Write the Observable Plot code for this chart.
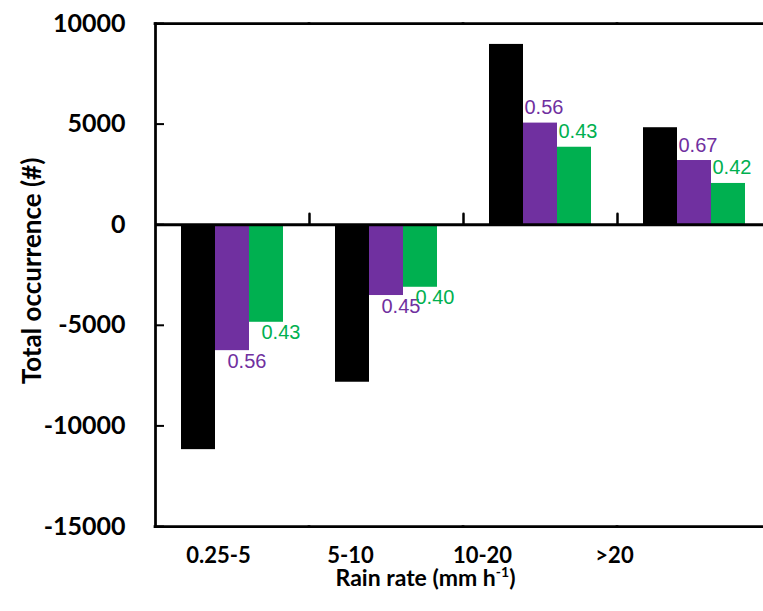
<!DOCTYPE html>
<html>
<head>
<meta charset="utf-8">
<script src="https://cdn.jsdelivr.net/npm/d3@7"></script>
<script src="https://cdn.jsdelivr.net/npm/@observablehq/plot@0.6"></script>
<style>
  html, body { margin: 0; padding: 0; background: #fff; overflow: hidden; }
  #chart svg { display: block; }
</style>
</head>
<body>
<div id="chart"></div>
<script>
// Rain-rate classes on the horizontal axis
const categories = ["0.25-5", "5-10", "10-20", ">20"];

// Three bar series per class: total (black) and two subsets (purple, green)
const seriesKeys = ["all", "subsetA", "subsetB"];
const seriesColors = ["#000000", "#7030A0", "#00B050"];

const totalValues   = [-11180, -7830, 8960, 4820];
const subsetAValues = [-6260, -3520, 5050, 3190];
const subsetBValues = [-4850, -3110, 3850, 2050];

// Ratios printed next to the coloured bars
const subsetARatios = [0.56, 0.45, 0.56, 0.67];
const subsetBRatios = [0.43, 0.40, 0.43, 0.42];

const yTicks = [-15000, -10000, -5000, 0, 5000, 10000];
const yTitle = "Total occurrence (#)";
const xTitle = "Rain rate (mm h-1)";

const rows = categories.flatMap((cat, i) => [
  {cat, s: "all",     v: totalValues[i],   r: null},
  {cat, s: "subsetA", v: subsetAValues[i], r: subsetARatios[i]},
  {cat, s: "subsetB", v: subsetBValues[i], r: subsetBRatios[i]}
]);
const labelled = rows.filter(d => d.r != null);

const boldFont = "Lato, 'Open Sans', sans-serif";
const valueFont = "'Liberation Sans', Arial, sans-serif";

// short upward tick drawn on the zero line at each class boundary
const tickUp = {draw(context, l) { context.moveTo(0, 0); context.lineTo(0, -l); }};

const main = Plot.plot({
  width: 763,
  height: 541,
  marginLeft: 154,
  marginRight: -8,
  marginTop: 23,
  marginBottom: 15,
  style: {fontFamily: boldFont, background: "#fff", color: "#000"},
  fx: {domain: categories, padding: 0, axis: null},
  x: {domain: seriesKeys, paddingInner: 0, paddingOuter: 0.75, axis: null},
  y: {domain: [-15000, 10000]},
  color: {domain: seriesKeys, range: seriesColors},
  marks: [
    Plot.barY(rows, {fx: "cat", x: "s", y: "v", fill: "s"}),
    Plot.ruleY([10000, -15000], {stroke: "#000", strokeWidth: 2.75, strokeLinecap: "square"}),
    Plot.ruleY([0], {stroke: "#000", strokeWidth: 3}),
    Plot.frame({anchor: "left", facetAnchor: "left", stroke: "#000", strokeWidth: 2.75}),
    Plot.vector([0], {y: d => d, frameAnchor: "right", rotate: 0, length: 11, anchor: "start",
      shape: tickUp, stroke: "#000", strokeWidth: 2.5}),
    Plot.axisY({ticks: yTicks, tickSize: -9, tickPadding: 39, tickFormat: d => String(d),
      fontSize: 25, fontWeight: "bold", strokeWidth: 2, label: null}),
    Plot.text(labelled.filter(d => d.v > 0), {
      fx: "cat", x: "s", y: "v", text: d => d.r.toFixed(2), fill: "s",
      textAnchor: "start", lineAnchor: "bottom", dx: -16, dy: -9,
      fontSize: 20, fontFamily: valueFont
    }),
    Plot.text(labelled.filter(d => d.v < 0), {
      fx: "cat", x: "s", y: "v", text: d => d.r.toFixed(2), fill: "s",
      textAnchor: "start", lineAnchor: "top", dx: -5, dy: 3,
      fontSize: 20, fontFamily: valueFont
    }),
    Plot.text([yTitle], {text: d => d, frameAnchor: "left", facetAnchor: "left", rotate: -90,
      textAnchor: "middle", lineAnchor: "middle", dx: -123, dy: -4,
      fontSize: 26, fontWeight: "bold", fill: "#000"})
  ]
});

// class labels and axis title below the plot
const below = Plot.plot({
  width: 763,
  height: 70,
  marginLeft: 152,
  marginRight: 83,
  marginTop: 0,
  marginBottom: 0,
  style: {fontFamily: boldFont, background: "#fff", color: "#000"},
  x: {type: "band", domain: categories, padding: 0, axis: null},
  marks: [
    Plot.text(categories, {x: d => d, text: d => d, frameAnchor: "top", lineAnchor: "top",
      dy: 6, fontSize: 22, fontWeight: "bold", fill: "#000"}),
    Plot.text([xTitle], {text: d => d, frameAnchor: "top", lineAnchor: "top", dx: 9, dy: 28,
      fontSize: 23, fontWeight: "bold", fill: "#000"})
  ]
});

// set the unit exponent as a superscript
d3.select(below).selectAll("text").filter(function() { return this.textContent === xTitle; })
  .each(function() {
    const t = d3.select(this);
    t.text(null);
    t.append("tspan").text("Rain rate (mm h");
    t.append("tspan").attr("dy", -9).attr("font-size", 14).text("-1");
    t.append("tspan").attr("dy", 9).text(")");
  });

const chart = document.getElementById("chart");
chart.append(main, below);
</script>
</body>
</html>
